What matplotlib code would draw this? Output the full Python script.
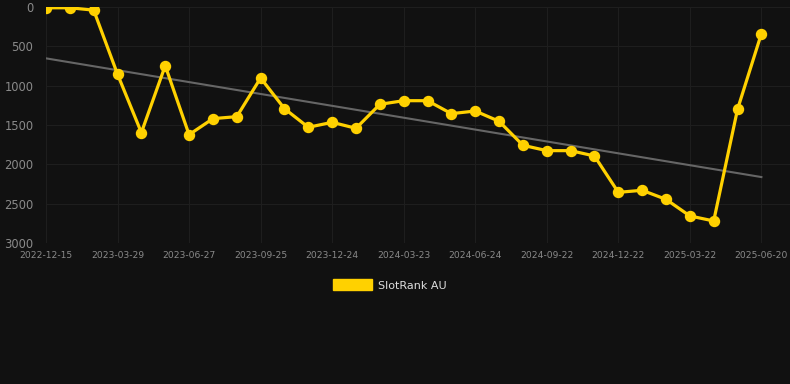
import matplotlib.pyplot as plt
import numpy as np
from matplotlib.patches import Patch

# SlotRank AU, one value per month (rank, lower is better)
ranks = [10, 10, 40, 855, 1597, 746, 1623, 1419, 1394, 902,
         1292, 1529, 1466, 1542, 1237, 1191, 1191, 1356, 1322, 1453,
         1758, 1826, 1826, 1894, 2356, 2330, 2445, 2656, 2720, 1300,
         339]

tick_labels = ['2022-12-15', '2023-03-29', '2023-06-27', '2023-09-25',
               '2023-12-24', '2024-03-23', '2024-06-24', '2024-09-22',
               '2024-12-22', '2025-03-22', '2025-06-20']
tick_every = 3

bg = '#111111'
yellow = '#FFD100'

x = np.arange(len(ranks))
y = np.array(ranks)

fig = plt.figure(figsize=(7.9, 3.84), dpi=100, facecolor=bg)
ax = fig.add_axes([46 / 790, (384 - 243) / 384, 744 / 790, 236 / 384])
ax.set_facecolor(bg)

# trend line (linear fit)
k, b = np.polyfit(x, y, 1)
ax.plot(x, k * x + b, color='#666666', linewidth=1.5, zorder=2)

ax.plot(x, y, color=yellow, linewidth=2.3, marker='o', markersize=7.2, zorder=3)

ax.set_ylim(3000, 0)
ax.set_yticks([0, 500, 1000, 1500, 2000, 2500, 3000])
ax.set_xlim(0, 31.2)
ax.set_xticks(x[::tick_every])
ax.set_xticklabels(tick_labels)

ax.grid(True, color='#1e1e1e', linewidth=0.8)
ax.set_axisbelow(True)
for s in ax.spines.values():
    s.set_visible(False)
ax.tick_params(axis='y', colors='#8a8a8a', labelsize=8.3, length=0, pad=9)
ax.tick_params(axis='x', colors='#8a8a8a', labelsize=6.6, length=0, pad=6)

fig.legend(handles=[Patch(facecolor=yellow, edgecolor=yellow, label='SlotRank AU')],
           loc='center', bbox_to_anchor=(390 / 790, 1 - 285 / 384), frameon=False,
           handlelength=3.5, handleheight=1.1, handletextpad=0.55,
           fontsize=8.0, labelcolor='#dddddd')

plt.savefig('out.png', facecolor=bg)
